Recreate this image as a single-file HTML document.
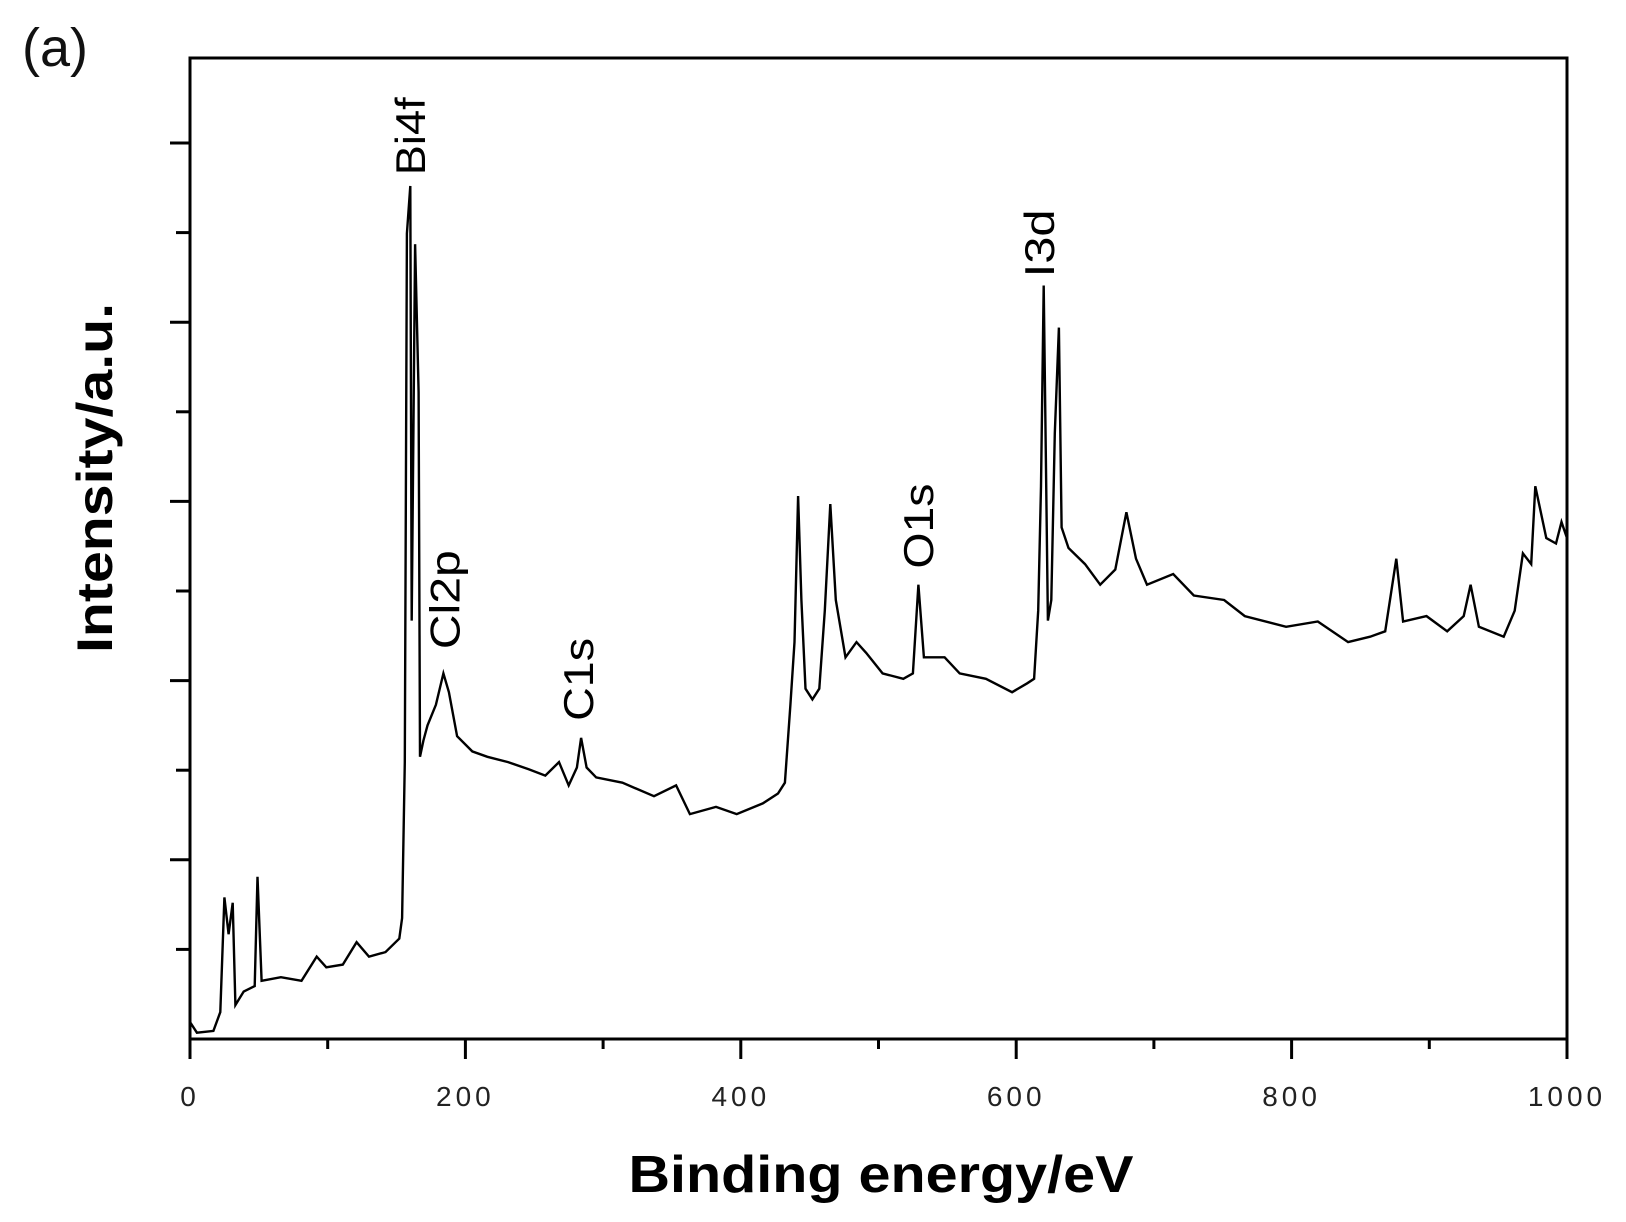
<!DOCTYPE html>
<html><head><meta charset="utf-8"><style>
html,body{margin:0;padding:0;background:#fff;}
svg{display:block;font-family:"Liberation Sans",Arial,sans-serif;}
</style></head><body>
<svg id="chart" width="1626" height="1222" viewBox="0 0 1626 1222">
<rect x="0" y="0" width="1626" height="1222" fill="#fff"/>
<text x="22" y="66" font-size="54" fill="#111">(a)</text>
<g id="axes"></g>
<path id="spectrum" fill="none" stroke="#000" stroke-width="2.4" stroke-linejoin="miter"/>
<g id="labels"></g>
<text transform="translate(112,478) rotate(-90)" text-anchor="middle" font-size="50" font-weight="bold" textLength="350" lengthAdjust="spacingAndGlyphs">Intensity/a.u.</text>
<text x="881" y="1192" text-anchor="middle" font-size="52" font-weight="bold" textLength="505" lengthAdjust="spacingAndGlyphs">Binding energy/eV</text>
</svg>
<script>
const energies = [0,5,17,22,25,28,31,33,39,47,49,52,66,81,92,99,111,121,130,142,152,154,156,157.5,160,161,163.5,166,167,169.5,172.5,178.6,184,188,194,205,216,231,246,258,268,275,281,284,288,295,314,337,353,363,382,397,416,427,432,436,439,441.6,444,447,452,457,461,465,469,476,484,491,503,518,525,529,533,548,559,578,597,608,613,616,618,620,623,625.5,628,631,633,638,650,661,672,680,687,695,714,729,751,766,796,819,841,857,868,876,881,898,913,925,930,936,954,962,968,974,977,985,992,996,1000];
const intensities = [0.19,0.07,0.09,0.3,1.58,1.17,1.52,0.38,0.53,0.59,1.81,0.65,0.69,0.65,0.92,0.8,0.83,1.08,0.92,0.97,1.12,1.35,3.09,8.99,9.52,4.67,8.87,7.22,3.15,3.33,3.5,3.73,4.08,3.87,3.38,3.21,3.15,3.09,3.01,2.94,3.09,2.83,3.03,3.36,3.03,2.92,2.86,2.71,2.83,2.51,2.59,2.51,2.63,2.74,2.86,3.73,4.43,6.06,4.9,3.91,3.79,3.91,4.78,5.97,4.9,4.26,4.43,4.31,4.08,4.02,4.08,5.07,4.26,4.26,4.08,4.02,3.87,3.97,4.02,4.78,6.17,8.41,4.67,4.9,6.76,7.94,5.71,5.48,5.3,5.07,5.24,5.88,5.36,5.07,5.19,4.95,4.9,4.72,4.6,4.66,4.43,4.49,4.55,5.36,4.66,4.72,4.55,4.72,5.07,4.6,4.49,4.78,5.42,5.3,6.17,5.59,5.53,5.77,5.59];
const xTicks = [0,100,200,300,400,500,600,700,800,900,1000];
const xTickLabels = ["0","","200","","400","","600","","800","","1000"];
const yTicks = [1,2,3,4,5,6,7,8,9,10];
const peakNames = ["Bi4f","Cl2p","C1s","O1s","I3d"];
const peakEnergies = [159,184,281,528,616];
const peakLabelHeights = [9.64,4.35,3.55,5.25,8.5];

const X0=190,X1=1567,Y0=1039,YT=58;
const xs = e => X0 + e*(X1-X0)/1000;
const ys = v => Y0 - v*89.6;
const NS="http://www.w3.org/2000/svg";
const axes=document.getElementById('axes');
function mk(tag,attrs,parent){const el=document.createElementNS(NS,tag);for(const k in attrs)el.setAttribute(k,attrs[k]);parent.appendChild(el);return el;}
const frame=mk('rect',{x:X0,y:YT,width:X1-X0,height:Y0-YT,fill:'none',stroke:'#000','stroke-width':3},axes);


xTicks.forEach((t,i)=>{
  const major = xTickLabels[i]!=="";
  const ln=mk('line',{x1:xs(t),x2:xs(t),y1:Y0,y2:Y0+(major?20:10),stroke:'#000','stroke-width':3},axes);
  
  
  if(major){
    const tx=mk('text',{x:xs(t),y:1106,'text-anchor':'middle','font-size':28,'letter-spacing':'4','fill':'#222'},axes);
    tx.textContent=xTickLabels[i];
    
    
  }
});
yTicks.forEach(t=>{
  const major = t%2===0;
  const ln=mk('line',{x1:major?170:176,x2:X0,y1:ys(t),y2:ys(t),stroke:'#000','stroke-width':3},axes);
  
  
});
let d='';
energies.forEach((e,i)=>{d+=(i?'L':'M')+xs(e).toFixed(1)+','+ys(intensities[i]).toFixed(1);});
document.getElementById('spectrum').setAttribute('d',d);
const labels=document.getElementById('labels');
const lens=[78,99,83,85,68];
peakNames.forEach((n,i)=>{
  const cx=xs(peakEnergies[i])+16, cy=ys(peakLabelHeights[i]);
  const tx=mk('text',{transform:`translate(${cx.toFixed(1)},${(cy-lens[i]/2).toFixed(1)}) rotate(-90)`,'text-anchor':'middle','font-size':42,textLength:lens[i],lengthAdjust:'spacingAndGlyphs'},labels);
  tx.textContent=n;
  
  
});
</script>
</body></html>
